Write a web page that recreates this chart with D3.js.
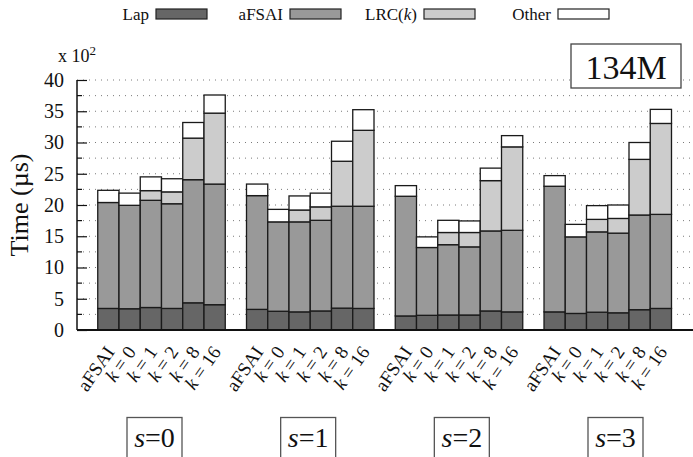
<!DOCTYPE html>
<html>
<head>
<meta charset="utf-8">
<script src="https://cdn.jsdelivr.net/npm/d3@7"></script>
<style>
  html, body { margin: 0; padding: 0; background: #fff; }
  svg { display: block; }
  svg text { font-family: "Liberation Serif", "Times New Roman", serif; }
</style>
</head>
<body>
<svg id="chart" width="693" height="457"></svg>
<script>
// Stacked solve-time breakdown (units of 100 µs), one cluster per s value.
const groups = ["0", "1", "2", "3"];
const variants = ["aFSAI", "0", "1", "2", "8", "16"];   // aFSAI baseline, then k values
const seriesNames = ["Lap", "aFSAI", "LRC(k)", "Other"];
const yTicks = [0, 5, 10, 15, 20, 25, 30, 35, 40];

// Component times per cluster (rows: s = 0..3, columns: variants)
const lapTime = [
  [3.45, 3.40, 3.60, 3.45, 4.35, 4.05],
  [3.30, 3.00, 2.90, 3.05, 3.50, 3.45],
  [2.25, 2.35, 2.40, 2.40, 3.05, 2.90],
  [2.90, 2.65, 2.85, 2.75, 3.25, 3.45]
];
const afsaiTime = [
  [16.95, 16.55, 17.15, 16.75, 19.70, 19.30],
  [18.20, 14.30, 14.40, 14.50, 16.30, 16.35],
  [19.15, 10.85, 11.25, 10.90, 12.80, 13.05],
  [20.10, 12.25, 12.85, 12.75, 15.15, 15.05]
];
const lrcTime = [
  [0, 0, 1.55, 1.90, 6.65, 11.35],
  [0, 0, 1.90, 2.15, 7.20, 12.15],
  [0, 0, 1.95, 2.30, 8.05, 13.35],
  [0, 0, 2.00, 2.35, 8.90, 14.55]
];
const otherTime = [
  [1.95, 1.95, 2.20, 2.10, 2.50, 2.90],
  [1.85, 2.00, 2.25, 2.20, 3.20, 3.30],
  [1.70, 1.70, 1.95, 1.85, 2.00, 1.80],
  [1.70, 2.00, 2.20, 2.15, 2.70, 2.25]
];
const fills = ["#666666", "#999999", "#cccccc", "#ffffff"];
const serif = "'Liberation Serif', 'Times New Roman', serif";

const svg = d3.select("#chart");
const plotLeft = 77, plotRight = 692, plotTop = 80, plotBottom = 330;

// Slot axis: each cluster holds 6 bars plus one empty gap slot.
const slotsPerGroup = variants.length + 1;
const x = d3.scaleLinear()
  .domain([0, groups.length * slotsPerGroup + 1])
  .range([76.5, 692.75]);
const slotW = x(1) - x(0);
const y = d3.scaleLinear().domain([0, 40]).range([plotBottom, plotTop]);

// Dotted grid at every 2.5
const gridVals = d3.range(2.5, 40.01, 2.5);
svg.append("g").selectAll("line").data(gridVals).join("line")
  .attr("x1", plotLeft).attr("x2", plotRight)
  .attr("y1", d => y(d)).attr("y2", d => y(d))
  .attr("stroke", "#7a7a7a").attr("stroke-width", 1)
  .attr("stroke-dasharray", "1,5");

// Build stacked records
const table = [lapTime, afsaiTime, lrcTime, otherTime];
const rects = [];
groups.forEach((g, gi) => {
  variants.forEach((v, vi) => {
    let base = 0;
    table.forEach((series, si) => {
      const val = series[gi][vi];
      if (val > 0) {
        rects.push({ gi, vi, si, y0: base, y1: base + val });
      }
      base += val;
    });
  });
});
const slotOf = d => d.gi * slotsPerGroup + d.vi + 1;

svg.append("g").selectAll("rect").data(rects).join("rect")
  .attr("x", d => x(slotOf(d)))
  .attr("width", slotW)
  .attr("y", d => y(d.y1))
  .attr("height", d => y(d.y0) - y(d.y1))
  .attr("fill", d => fills[d.si])
  .attr("stroke", "#1a1a1a")
  .attr("stroke-width", 1.3);

// Y axis with major ticks (labelled) and minor ticks
const yAxis = d3.axisLeft(y).tickValues(yTicks).tickSize(-10).tickPadding(13)
  .tickFormat(d3.format("d"));
const ya = svg.append("g").attr("transform", `translate(${plotLeft},0)`).call(yAxis)
  .attr("font-family", serif);
ya.select(".domain").remove();
ya.selectAll("line").attr("stroke", "#111").attr("stroke-width", 1.2);
ya.selectAll("text").attr("font-size", 20).attr("fill", "#111").attr("font-family", serif);
svg.append("g").selectAll("line").data(d3.range(2.5, 40, 5)).join("line")
  .attr("x1", plotLeft).attr("x2", plotLeft + 5)
  .attr("y1", d => y(d)).attr("y2", d => y(d))
  .attr("stroke", "#111").attr("stroke-width", 1.2);

svg.append("line").attr("x1", plotLeft).attr("x2", plotLeft).attr("y1", plotTop).attr("y2", plotBottom)
  .attr("stroke", "#111").attr("stroke-width", 1.5);
svg.append("line").attr("x1", plotLeft).attr("x2", 693).attr("y1", plotBottom).attr("y2", plotBottom)
  .attr("stroke", "#111").attr("stroke-width", 1.8);

// Multiplier note
const mult = svg.append("text").attr("x", 58).attr("y", 62).attr("font-size", 18)
  .attr("font-family", serif).attr("fill", "#111");
mult.append("tspan").text("x 10");
mult.append("tspan").attr("dy", -7).attr("font-size", 13).text("2");

// Y title
svg.append("text")
  .attr("transform", "translate(28,205) rotate(-90)")
  .attr("text-anchor", "middle").attr("font-size", 26).attr("font-family", serif).attr("fill", "#111")
  .text("Time (µs)");

// Rotated variant labels under each bar
const labels = [];
groups.forEach((g, gi) => variants.forEach((v, vi) => labels.push({ gi, vi, v })));
const lab = svg.append("g").selectAll("text").data(labels).join("text")
  .attr("transform", d => `translate(${x(slotOf(d)) + slotW / 2 + 7},352) rotate(-55)`)
  .attr("text-anchor", "end").attr("font-size", 19).attr("font-family", serif).attr("fill", "#111");
lab.each(function(d) {
  const t = d3.select(this);
  if (d.vi === 0) { t.text(d.v); return; }
  t.append("tspan").attr("font-style", "italic").text("k");
  t.append("tspan").text(" = " + d.v);
});

// Cluster captions in boxes
const sx = d3.scalePoint().domain(groups).range([154.5, 615.5]);
const cap = svg.append("g").selectAll("g").data(groups).join("g")
  .attr("transform", d => `translate(${sx(d)},0)`);
cap.append("rect").attr("x", -27.5).attr("y", 417.5).attr("width", 55).attr("height", 50)
  .attr("fill", "#fff").attr("stroke", "#555").attr("stroke-width", 1.3);
const capText = cap.append("text").attr("y", 447).attr("text-anchor", "middle")
  .attr("font-size", 28).attr("font-family", serif).attr("fill", "#111");
capText.append("tspan").attr("font-style", "italic").text("s");
capText.append("tspan").text(d => "=" + d);

// Problem-size badge
svg.append("rect").attr("x", 571).attr("y", 44).attr("width", 110).attr("height", 44)
  .attr("fill", "#fff").attr("stroke", "#444").attr("stroke-width", 1.3);
svg.append("text").attr("x", 626).attr("y", 79).attr("text-anchor", "middle")
  .attr("font-size", 34).attr("font-family", serif).attr("fill", "#111").text("134M");

// Legend: right-aligned name followed by a swatch
const legX = d3.scaleLinear().domain([0, 1]).range([156, 290]);
const leg = svg.append("g").selectAll("g").data(seriesNames).join("g")
  .attr("transform", (d, i) => `translate(${legX(i)},0)`);
leg.append("rect").attr("x", 0).attr("y", 9).attr("width", 51).attr("height", 10)
  .attr("fill", (d, i) => fills[i]).attr("stroke", "#222").attr("stroke-width", 1.2);
const legText = leg.append("text").attr("x", -7).attr("y", 20).attr("text-anchor", "end")
  .attr("font-size", 17).attr("font-family", serif).attr("fill", "#111");
legText.each(function(d) {
  const t = d3.select(this);
  if (d === "LRC(k)") {
    t.append("tspan").text("LRC(");
    t.append("tspan").attr("font-style", "italic").text("k");
    t.append("tspan").text(")");
  } else t.text(d);
});
</script>
</body>
</html>
